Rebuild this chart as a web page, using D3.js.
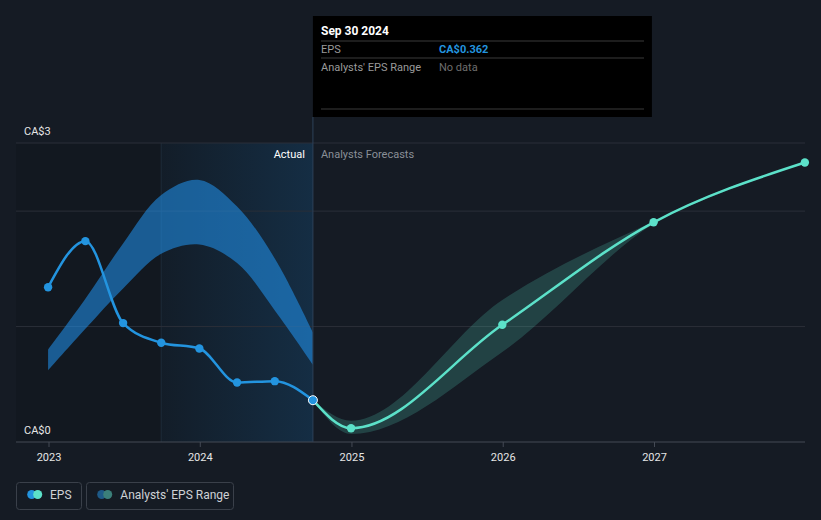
<!DOCTYPE html>
<html>
<head>
<meta charset="utf-8">
<script src="https://cdn.jsdelivr.net/npm/d3@7"></script>
<style>
  html, body { margin: 0; padding: 0; background: #151b24; }
  svg { display: block; font-family: Roboto, "Noto Sans", sans-serif; }
</style>
</head>
<body>
<svg id="chart" width="821" height="520"></svg>
<script>
// ---- data ----
const epsDates = ["2022-12-31","2023-03-31","2023-06-30","2023-09-30","2023-12-31","2024-03-31","2024-06-30","2024-09-30"];
const epsValues = [1.34, 1.74, 1.03, 0.86, 0.81, 0.515, 0.527, 0.362];

const pastRangeLow  = [0.62, 0.98, 1.33, 1.63, 1.71, 1.55, 1.14, 0.67];
const pastRangeHigh = [0.80, 1.24, 1.72, 2.14, 2.27, 2.04, 1.59, 0.95];

const forecastDates  = ["2024-09-30","2024-12-31","2025-12-31","2026-12-31","2027-12-31"];
const forecastValues = [0.362, 0.119, 1.015, 1.903, 2.421];
const forecastLow    = [0.362, 0.07, 0.78, 1.89, 2.41];
const forecastHigh   = [0.362, 0.185, 1.23, 1.91, 2.43];

const xTickYears = [2023, 2024, 2025, 2026, 2027];
const yTickValues = [0, 2.59];
const yTickLabels = ["CA$0", "CA$3"];
const gridValues = [1, 2, 2.59];

const tooltipDate = "Sep 30 2024";
const tooltipEps = "CA$0.362";
const tooltipRange = "No data";

// ---- setup ----
const svg = d3.select("#chart");
const parse = d3.timeParse("%Y-%m-%d");
const W = 821, H = 520;
const left = 16, right = 805;

const x = d3.scaleTime()
  .domain([new Date(2023, 0, 1), new Date(2027, 0, 1)])
  .range([48.5, 654]);
const y = d3.scaleLinear().domain([0, 2.59]).range([442, 143]);

svg.append("rect").attr("width", W).attr("height", H).attr("fill", "#151b24");

const defs = svg.append("defs");
const grad = defs.append("linearGradient").attr("id", "pastGrad").attr("x1", 0).attr("x2", 1).attr("y1", 0).attr("y2", 0);
grad.append("stop").attr("offset", "0%").attr("stop-color", "#2196f3").attr("stop-opacity", 0.04);
grad.append("stop").attr("offset", "100%").attr("stop-color", "#2196f3").attr("stop-opacity", 0.17);

const xNow = x(parse("2024-09-30"));
const xYear = x(parse("2023-09-30"));

// dark past overlay
svg.append("rect").attr("x", left).attr("y", y(2.59)).attr("width", xNow - left).attr("height", y(0) - y(2.59))
  .attr("fill", "#000").attr("opacity", 0.1);
// last-year highlight
svg.append("rect").attr("x", xYear).attr("y", y(2.59)).attr("width", xNow - xYear).attr("height", y(0) - y(2.59))
  .attr("fill", "url(#pastGrad)");
svg.append("line").attr("x1", xYear).attr("x2", xYear).attr("y1", y(2.59)).attr("y2", y(0))
  .attr("stroke", "#1d2b3a").attr("stroke-width", 1);

// gridlines
svg.selectAll(".grid").data(gridValues).enter().append("line")
  .attr("x1", left).attr("x2", right)
  .attr("y1", d => y(d)).attr("y2", d => y(d))
  .attr("stroke", "#2a2f38").attr("stroke-width", 1);

// y labels
svg.selectAll(".ylab").data(yTickValues).enter().append("text")
  .attr("x", 24).attr("y", d => y(d) - 8)
  .attr("fill", "#e6e6e6").attr("font-size", 11)
  .text((d, i) => yTickLabels[i]);

// past range band
const pastData = epsDates.map((d, i) => ({ date: parse(d), lo: pastRangeLow[i], hi: pastRangeHigh[i] }));
svg.append("path").datum(pastData)
  .attr("d", d3.area().curve(d3.curveCatmullRom.alpha(0.5)).x(d => x(d.date)).y0(d => y(d.lo)).y1(d => y(d.hi)))
  .attr("fill", "#2196f3").attr("opacity", 0.55);

// forecast band
const fcData = forecastDates.map((d, i) => ({ date: parse(d), v: forecastValues[i], lo: forecastLow[i], hi: forecastHigh[i] }));
svg.append("path").datum(fcData)
  .attr("d", d3.area().curve(d3.curveMonotoneX).x(d => x(d.date)).y0(d => y(d.lo)).y1(d => y(d.hi)))
  .attr("fill", "#5ce1c9").attr("opacity", 0.2);

// axis
const xAxis = d3.axisBottom(x)
  .tickValues(xTickYears.map(yr => new Date(yr, 0, 1)))
  .tickFormat(d3.timeFormat("%Y"))
  .tickSize(5).tickPadding(6);
const gx = svg.append("g").attr("transform", `translate(0,${y(0)})`).call(xAxis);
gx.select(".domain").remove();
gx.selectAll(".tick line").attr("stroke", "#444a55");
gx.selectAll(".tick text").attr("fill", "#e6e6e6").attr("font-size", 11).attr("font-family", "Roboto, sans-serif");
svg.append("line").attr("x1", left).attr("x2", right).attr("y1", y(0)).attr("y2", y(0))
  .attr("stroke", "#444a55").attr("stroke-width", 1);

// now line
svg.append("line").attr("x1", xNow).attr("x2", xNow).attr("y1", 117).attr("y2", y(0))
  .attr("stroke", "#2c4058").attr("stroke-width", 1);

// Actual / Forecast labels
svg.append("text").attr("x", xNow - 8).attr("y", 158).attr("text-anchor", "end")
  .attr("fill", "#ffffff").attr("font-size", 11).text("Actual");
svg.append("text").attr("x", xNow + 8).attr("y", 158)
  .attr("fill", "#8a8f97").attr("font-size", 11).text("Analysts Forecasts");

// EPS line
const epsData = epsDates.map((d, i) => ({ date: parse(d), v: epsValues[i] }));
const line = d3.line().curve(d3.curveMonotoneX).x(d => x(d.date)).y(d => y(d.v));
svg.append("path").datum(fcData).attr("d", line)
  .attr("fill", "none").attr("stroke", "#5ce1c9").attr("stroke-width", 2.5);
svg.append("path").datum(epsData).attr("d", line)
  .attr("fill", "none").attr("stroke", "#2394df").attr("stroke-width", 2.5);

svg.selectAll(".fcpt").data(fcData.slice(1)).enter().append("circle")
  .attr("cx", d => x(d.date)).attr("cy", d => y(d.v)).attr("r", 4.2).attr("fill", "#5ce1c9");
svg.selectAll(".epspt").data(epsData.slice(0, -1)).enter().append("circle")
  .attr("cx", d => x(d.date)).attr("cy", d => y(d.v)).attr("r", 4.2).attr("fill", "#2394df");
const lastPt = epsData[epsData.length - 1];
svg.append("circle").attr("cx", x(lastPt.date)).attr("cy", y(lastPt.v)).attr("r", 4.5)
  .attr("fill", "#2394df").attr("stroke", "#ffffff").attr("stroke-width", 1);

// tooltip
const tt = svg.append("g");
tt.append("rect").attr("x", xNow).attr("y", 16).attr("width", 339).attr("height", 101).attr("fill", "#000000");
tt.append("text").attr("x", 321).attr("y", 35).attr("fill", "#ffffff").attr("font-size", 12).attr("font-weight", "bold").text(tooltipDate);
[41, 58, 109].forEach(yy => tt.append("line").attr("x1", 321).attr("x2", 644).attr("y1", yy).attr("y2", yy).attr("stroke", "#3a3a3a"));
tt.append("text").attr("x", 321).attr("y", 53).attr("fill", "#9a9a9a").attr("font-size", 11).text("EPS");
tt.append("text").attr("x", 439).attr("y", 53).attr("fill", "#2394df").attr("font-size", 11).attr("font-weight", "bold").text(tooltipEps);
tt.append("text").attr("x", 321).attr("y", 70.5).attr("fill", "#9a9a9a").attr("font-size", 11).text("Analysts' EPS Range");
tt.append("text").attr("x", 439).attr("y", 70.5).attr("fill", "#6e6e6e").attr("font-size", 11).text(tooltipRange);

// legend
const lg = svg.append("g");
lg.append("rect").attr("x", 16.5).attr("y", 482.5).attr("width", 65).attr("height", 27).attr("rx", 3)
  .attr("fill", "none").attr("stroke", "#3a404a");
lg.append("circle").attr("cx", 31.7).attr("cy", 494.5).attr("r", 4.5).attr("fill", "#2394df");
lg.append("circle").attr("cx", 37.7).attr("cy", 494.5).attr("r", 4.5).attr("fill", "#5ce1c9");
lg.append("text").attr("x", 50).attr("y", 498.5).attr("fill", "#cfd2d6").attr("font-size", 12).text("EPS");
lg.append("rect").attr("x", 86.5).attr("y", 482.5).attr("width", 147).attr("height", 27).attr("rx", 3)
  .attr("fill", "none").attr("stroke", "#3a404a");
lg.append("circle").attr("cx", 101.7).attr("cy", 494.5).attr("r", 4.5).attr("fill", "#1e5a88");
lg.append("circle").attr("cx", 107.7).attr("cy", 494.5).attr("r", 4.5).attr("fill", "#3b7f7a");
lg.append("text").attr("x", 120.3).attr("y", 498.5).attr("fill", "#cfd2d6").attr("font-size", 12).text("Analysts' EPS Range");
</script>
</body>
</html>
